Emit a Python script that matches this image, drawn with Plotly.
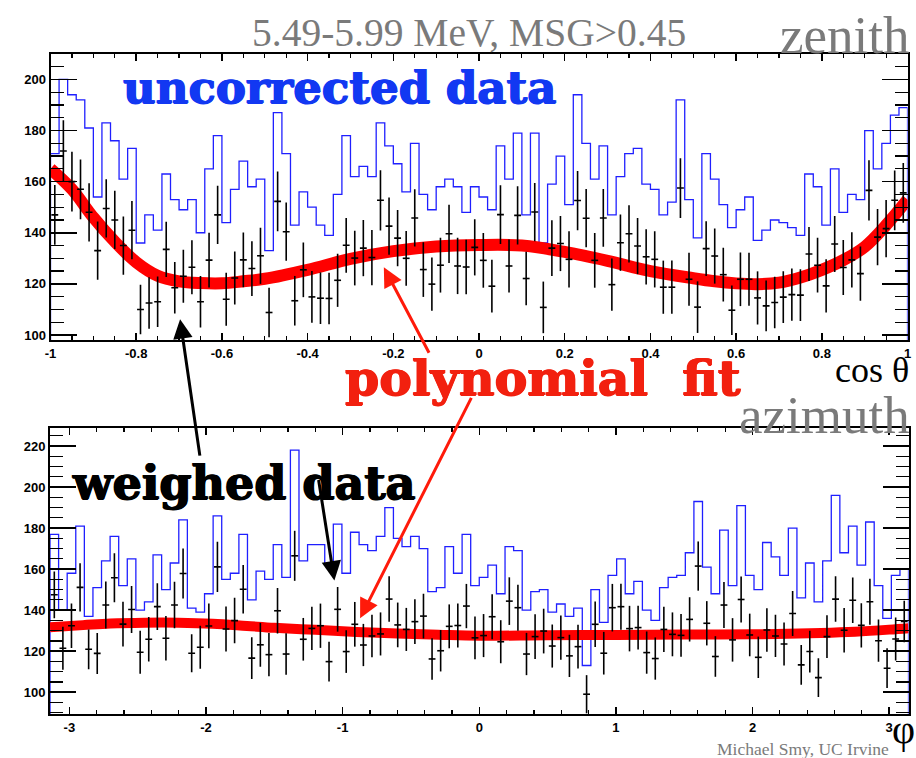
import numpy as np
import plotly.graph_objects as go

# ---------------- data ----------------
zen_edges = np.linspace(-1.0, 1.0, 101)
zen_centers = 0.5 * (zen_edges[:-1] + zen_edges[1:])

zen_uncorrected = [171,200,194,192,181,154,183,176,161,173,
                   136,147,141,163,153,149,153,140,165,178,
                   144,157,168,158,161,133,187,171,143,156,
                   150,143,139,155,178,162,166,162,183,174,
                   167,156,175,155,149,158,161,158,148,158,
                   154,149,174,161,179,147,179,136,159,170,
                   151,194,175,161,174,147,162,171,173,159,
                   157,147,152,192,153,138,171,161,151,142,
                   149,154,137,141,145,144,142,139,163,158,
                   143,165,148,155,153,180,165,175,186,189]

zen_weighed = [147,172,160,157,148,133,149.5,145,135,141,
               110,112.5,113,133.5,118.5,123,126.5,113,129.3,147,
               114,122.3,129.4,126,131,108.8,152.3,140.4,113.4,125.5,
               114.9,114.4,114.3,121.4,135.1,130.1,134,130.3,152.7,142.6,
               137.9,130,145.8,125.6,119.9,127.3,139.6,127,126.6,134.3,
               129.2,119.1,147.1,127,146.8,122.1,148.1,110.8,134,135.8,
               129.6,152.6,145.7,129.2,145.8,119.7,136.1,139.6,134.8,130.6,
               129.6,118.7,118.7,157.5,121.8,110.9,133.8,130.9,123.6,109.7,
               121.8,121.8,114.5,111.4,112.7,114.8,115.8,115.6,131.7,127.3,
               119.2,135.6,126.4,129.4,124,156.6,138.3,141.6,152.7,155.6]

zen_err = [11.7,12.0,11.7,11.7,11.4,11.4,11.4,11.4,11.4,11.4,
           9.7,10.1,9.9,10.8,10.1,10.4,10.6,10.1,10.7,11.4,
           10.4,10.4,10.7,10.7,11.0,9.7,11.7,11.4,9.7,10.7,
           10.1,10.1,10.1,10.4,10.7,10.7,11.0,10.8,11.8,11.2,
           11.0,10.7,11.2,10.7,10.4,10.7,11.4,11.0,10.7,11.0,
           10.7,10.3,11.5,10.4,11.4,10.5,11.4,10.1,10.9,10.8,
           11.0,11.6,11.4,10.7,11.3,10.2,11.0,11.2,11.0,10.8,
           11.0,10.4,10.4,11.7,10.4,10.1,10.7,10.8,10.5,9.7,
           10.5,10.4,10.4,9.9,10.1,10.1,10.2,10.1,10.6,10.7,
           10.4,11.0,10.8,10.8,10.6,11.8,11.0,11.2,11.7,11.7]

zen_fit_x = [-1.0,-0.95,-0.9,-0.85,-0.8,-0.75,-0.7,-0.65,-0.6,-0.55,-0.5,-0.4,-0.3,-0.2,-0.1,
             0.0,0.1,0.2,0.3,0.4,0.5,0.55,0.6,0.65,0.7,0.75,0.8,0.85,0.9,0.95,1.0]
zen_fit_y = [165,157,146,136.5,128.5,123.2,121,120.3,120.2,121,122,125.5,129.8,132.8,134.6,
             135.2,135,132.5,129,125,122.2,121,120.2,119.9,120.5,122.5,125.5,129.3,134.5,143,153]

azi_edges = np.linspace(-np.pi, np.pi, 101)
azi_centers = 0.5 * (azi_edges[:-1] + azi_edges[1:])

azi_uncorrected = [177,140,158,181,137,151,164,176,152,165,
                   140,144,167,150,163,184,141,139,148,186,
                   155,158,177,145,159,155,172,156,218,164,
                   172,172,162,182,158,178,172,169,176,190,
                   175,171,176,170,149,151,171,158,177,152,
                   156,162,148,171,169,140,149,150,139,143,
                   137,141,113,150,134,157,165,148,154,140,
                   135,151,156,157,168,193,161,148,179,152,
                   191,157,150,173,166,157,180,146,163,144,
                   164,196,168,181,162,183,152,136,157,160]

azi_weighed = [147.5,121.4,132.4,151.1,120.9,118.9,142.5,155.8,133.2,140.3,
               119.5,125.8,141.7,126.3,142.5,157.9,119,121.9,132.3,161.1,
               130.8,134.9,150.2,116.6,123.1,118.3,139.7,118.6,166.5,125.8,
               131.1,132.4,114.9,140.4,119.8,133.1,123,127.4,128.4,145.4,
               132.8,130.6,134.4,137.1,116.2,120.2,132.1,132.5,142,126.5,
               127.6,136.8,124.6,144.4,141.2,118.6,127.1,129.8,122.5,126.6,
               117.7,122.2,99,133.1,119,141.2,141.7,131,131.5,119.3,
               116.4,130.6,128.2,127.7,135.5,161.5,133.6,117.4,142.5,125.5,
               145.2,127.9,117,130.3,127.4,123.5,138.4,113.3,119.8,107.1,
               127.1,145.4,130.2,144.8,132.6,144.1,125.1,111.7,125.9,134.5]

azi_err = [11.4,10.5,10.9,11.8,9.7,10.0,11.5,11.9,10.9,11.5,
           10.5,10.9,11.4,10.9,11.3,12.2,9.3,10.5,10.9,12.2,
           11.0,11.1,11.8,10.2,10.7,10.5,11.1,10.1,12.2,10.4,
           10.5,10.8,9.7,10.9,10.4,10.9,10.3,10.4,10.5,11.1,
           10.9,10.5,10.9,10.9,10.1,10.1,10.7,10.7,10.8,10.4,
           10.5,11.0,10.5,11.6,11.2,10.3,10.9,10.9,10.5,10.8,
           10.3,10.7,9.3,11.1,10.4,11.6,11.2,11.1,10.7,10.3,
           10.3,11.0,10.7,10.4,10.8,12.0,10.8,9.9,11.2,10.6,
           11.2,10.4,10.1,10.6,10.3,10.5,11.0,9.7,10.2,9.5,
           10.4,11.1,10.8,11.1,10.8,11.2,10.3,9.7,10.5,10.1]

azi_fit_x = [-3.1416,-2.9,-2.7,-2.45,-2.2,-1.95,-1.7,-1.5,-1.2,-0.9,-0.6,-0.3,0.0,
             0.5,1.0,1.5,2.0,2.5,2.75,3.0,3.1416]
azi_fit_y = [131.7,132.7,133.5,133.9,133.9,133.4,132.3,131.4,130.4,129.4,128.6,128.0,127.5,
             127.8,127.9,128.1,128.2,128.9,129.5,130.5,131.2]

zen_tickvals = [-1, -0.8, -0.6, -0.4, -0.2, 0, 0.2, 0.4, 0.6, 0.8, 1]
zen_ticktext = ["-1", "-0.8", "-0.6", "-0.4", "-0.2", "0", "0.2", "0.4", "0.6", "0.8", "1"]
azi_tickvals = [-3, -2, -1, 0, 1, 2, 3]
azi_ticktext = ["-3", "-2", "-1", "0", "1", "2", "3"]

# ---------------- figure ----------------
W, H = 916, 758
fig = go.Figure()

def hist_xy(edges, vals):
    xs = [edges[0]] + list(edges[:-1]) + [edges[-1], edges[-1]]
    ys = [0] + list(vals) + [vals[-1], 0]
    return xs, ys

BLUE = "#1f1fff"

for edges, centers, unc, wt, er, fx, fy, xa, ya, xerr, fw in [
    (zen_edges, zen_centers, zen_uncorrected, zen_weighed, zen_err, zen_fit_x, zen_fit_y, "x", "y", 0.008, 12),
    (azi_edges, azi_centers, azi_uncorrected, azi_weighed, azi_err, azi_fit_x, azi_fit_y, "x2", "y2", 0.025, 10),
]:
    hx, hy = hist_xy(edges, unc)
    fig.add_trace(go.Scatter(x=hx, y=hy, mode="lines", line=dict(color=BLUE, width=1.3, shape="hv"),
                             xaxis=xa, yaxis=ya, hoverinfo="skip"))
    fig.add_trace(go.Scatter(x=fx, y=fy, mode="lines", line=dict(color="#ff0000", width=fw, shape="spline"),
                             xaxis=xa, yaxis=ya, hoverinfo="skip"))
    fig.add_trace(go.Scatter(x=centers, y=wt, mode="markers", marker=dict(size=1, color="black"),
                             error_y=dict(type="data", array=er, color="black", thickness=1.6, width=0),
                             error_x=dict(type="constant", value=xerr, color="black", thickness=1.6, width=0),
                             xaxis=xa, yaxis=ya, hoverinfo="skip"))

tickfont = dict(family="Liberation Sans", size=13, color="black", weight="bold")

def xaxis_cfg(dom, rng, tv, tt, anchor, mdt, t0):
    return dict(domain=dom, range=rng, anchor=anchor, tickmode="array", tickvals=tv, ticktext=tt,
                showline=True, linecolor="black", linewidth=2, mirror="ticks",
                ticks="inside", ticklen=7, tickwidth=1.5, tickcolor="black",
                minor=dict(ticks="inside", ticklen=4, tickwidth=1.2, tickcolor="black",
                           tickmode="linear", tick0=t0, dtick=mdt, showgrid=False),
                showgrid=False, zeroline=False, tickfont=tickfont, fixedrange=True)

def yaxis_cfg(dom, rng, anchor):
    return dict(domain=dom, range=rng, anchor=anchor, dtick=20, tick0=0,
                showline=True, linecolor="black", linewidth=2, mirror="ticks",
                ticks="inside", ticklen=26, tickwidth=1.5, tickcolor="black",
                minor=dict(ticks="inside", ticklen=13, tickwidth=1.2, tickcolor="black",
                           dtick=5, tick0=0, showgrid=False),
                showgrid=False, zeroline=False, tickfont=tickfont, fixedrange=True)

def px2x(px):
    return px / W

def py2y(py):
    return 1 - py / H

fig.update_layout(
    width=W, height=H, margin=dict(l=0, r=0, t=0, b=0),
    paper_bgcolor="white", plot_bgcolor="white", showlegend=False,
    xaxis=xaxis_cfg([px2x(45), px2x(911.5)], [-1, 1], zen_tickvals, zen_ticktext, "y", 0.05, -1),
    yaxis=yaxis_cfg([py2y(341), py2y(54)], [98, 210], "x"),
    xaxis2=xaxis_cfg([px2x(44.5), px2x(912.5)], [-np.pi, np.pi], azi_tickvals, azi_ticktext, "y2", 0.2, -3),
    yaxis2=yaxis_cfg([py2y(716), py2y(429)], [89.3, 228.9], "x2"),
)

SERIF = "Liberation Serif"
HEAVY = "DejaVu Serif"
GRAY = "#7a7a7a"

def text(t, x, y, size, color, family, xanchor="left", weight="normal", heavy=False):
    f = dict(family=family, size=size, color=color, weight=weight)
    if heavy:
        f["shadow"] = f"0.8px 0 0 {color}, -0.8px 0 0 {color}, 0 0.6px 0 {color}"
    fig.add_annotation(text=t, x=px2x(x), y=py2y(y), xref="paper", yref="paper",
                       xanchor=xanchor, yanchor="middle", showarrow=False, borderpad=0,
                       font=f)

text("5.49-5.99 MeV, MSG>0.45", 468, 33, 39.5, GRAY, SERIF, "center")
text("zenith", 915, 35, 53, GRAY, SERIF, "right")
text("uncorrected data", 117, 88, 45, "#1238f2", HEAVY, "left", "bold", True)
text("polynomial  fit", 342, 379, 49, "#f2200f", HEAVY, "left", "bold", True)
text("cos θ", 914, 371, 36, "black", SERIF, "right")
text("azimuth", 915, 416, 53, GRAY, SERIF, "right")
text("weighed data", 66, 484, 46, "black", HEAVY, "left", "bold", True)
text("φ", 920, 731, 40, "black", SERIF, "right")
text("Michael Smy, UC Irvine", 894, 751, 17.5, GRAY, SERIF, "right")

def arrow(hx, hy, tx, ty, color):
    fig.add_annotation(x=px2x(hx), y=py2y(hy), xref="paper", yref="paper",
                       ax=tx - hx, ay=ty - hy, axref="pixel", ayref="pixel",
                       text="", showarrow=True, arrowhead=2, arrowsize=1.3, arrowwidth=3,
                       arrowcolor=color, standoff=0, startstandoff=0)

arrow(176, 320, 196, 458, "black")
arrow(332, 582, 316, 480, "black")
arrow(382, 268, 428, 355, "#ff1a0a")
arrow(358, 620, 470, 398, "#ff1a0a")

fig.write_html("out.html", config={"displayModeBar": False, "staticPlot": True},
               post_script="document.body.style.margin='0';document.body.style.padding='0';"
                           "document.documentElement.style.overflow='hidden';")
